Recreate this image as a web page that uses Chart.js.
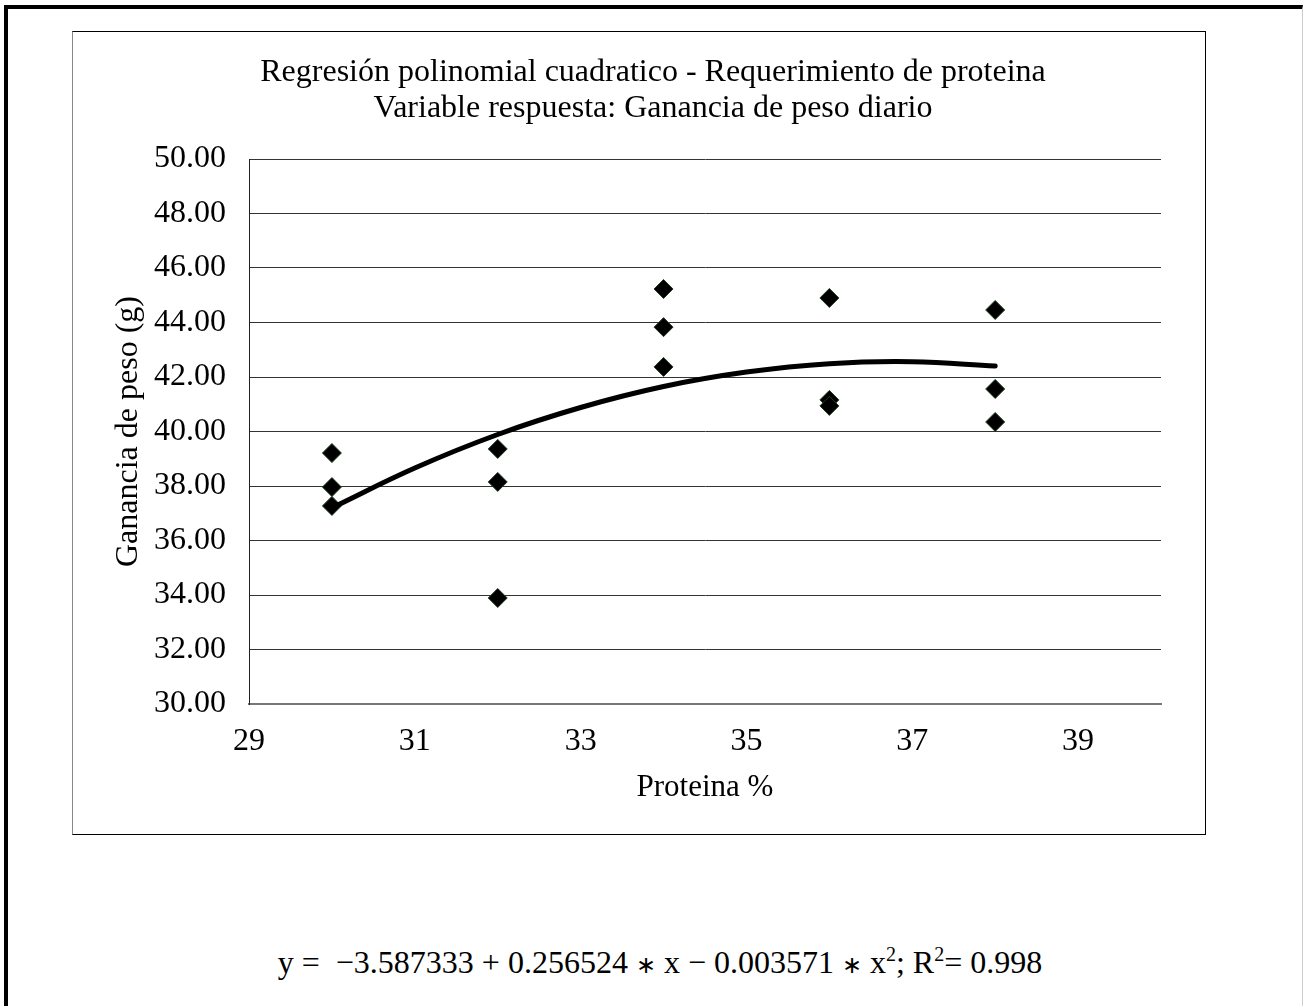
<!DOCTYPE html>
<html><head><meta charset="utf-8">
<script src="https://cdn.jsdelivr.net/npm/chart.js@4"></script>
<style>
body{margin:0;background:#fff;font-family:"Liberation Serif",serif}
#frame{position:absolute;left:4px;top:5px;width:1299px;height:1100px;box-sizing:border-box;border-top:4px solid #000;border-left:4px solid #000;border-right:1px solid #ccc}
#box{position:absolute;left:72px;top:31px;width:1134px;height:804px;box-sizing:border-box;border:1px solid #000;border-left-color:#888}
#eq{position:absolute;left:160px;width:1000px;top:947px;text-align:center;font:32px/30px "Liberation Serif",serif;color:#000}
#eq sup{font-size:20px;line-height:0}
#eq .op{font-size:24px}
</style></head>
<body>
<div id="frame"></div>
<div id="box"><canvas id="c" width="1132" height="802"></canvas></div>
<div id="eq">y =&nbsp; −3.587333 + 0.256524 <span class="op">∗</span> x − 0.003571 <span class="op">∗</span> x<sup>2</sup>; R<sup>2</sup>= 0.998</div>
<script>
// datos observados
const proteina=[30,30,30,32,32,32,34,34,34,36,36,36,38,38,38];
const ganancia=[39.21,37.96,37.27,39.36,38.15,33.89,45.23,43.83,42.37,44.90,41.16,40.94,44.46,41.56,40.35];
// curva ajustada
const curvaX=[30,31,32,33,34,35,36,37,38];
const curvaY=[37.20,38.66,39.89,40.88,41.65,42.18,42.49,42.56,42.40];
const xTicks=[29,31,33,35,37,39];
const tituloLineas=['Regresión polinomial cuadratico - Requerimiento de proteina','Variable respuesta: Ganancia de peso diario'];

const FONT='"Liberation Serif", serif';
// título dibujado a mano para centrarlo como el original
const tituloPlugin={id:'titulo',afterDraw(ch){
  const c=ch.ctx;c.save();c.font='32px '+FONT;c.fillStyle='#000';c.textAlign='center';c.textBaseline='alphabetic';
  tituloLineas.forEach((t,i)=>c.fillText(t,580,49+i*36));
  c.restore();
}};

new Chart(document.getElementById('c'),{
  type:'scatter',
  data:{datasets:[
    {label:'ajuste',data:curvaX.map((x,i)=>({x,y:curvaY[i]})),showLine:true,tension:0.4,borderColor:'#000',borderWidth:5,borderCapStyle:'round',pointRadius:0,fill:false},
    {label:'obs',data:proteina.map((x,i)=>({x,y:ganancia[i]})),pointStyle:'rectRot',pointRadius:9.5,backgroundColor:'#000',borderColor:'#1d3d1d',borderWidth:1}
  ]},
  options:{
    responsive:false,animation:false,
    layout:{padding:{left:0,right:44,top:127,bottom:0}},
    plugins:{legend:{display:false},tooltip:{enabled:false}},
    scales:{
      x:{type:'linear',min:29,max:40,
        afterBuildTicks:s=>{s.ticks=xTicks.map(v=>({value:v}));},
        afterFit:s=>{s.height=130;},
        grid:{display:false,drawTicks:false},
        border:{display:true,color:'#777',width:2},
        ticks:{font:{family:FONT,size:32},color:'#000',padding:18,maxRotation:0,autoSkip:false},
        title:{display:true,text:'Proteina %',font:{family:FONT,size:31},color:'#000',padding:{top:0,bottom:28}}},
      y:{min:30,max:50,
        afterFit:s=>{s.width=176;},
        grid:{color:'#333',lineWidth:1,drawTicks:false},
        border:{display:true,color:'#222',width:1},
        ticks:{stepSize:2,font:{family:FONT,size:32},color:'#000',padding:23,callback:v=>v.toFixed(2)},
        title:{display:true,text:'Ganancia de peso (g)',font:{family:FONT,size:32},color:'#000',padding:{top:36,bottom:0}}}
    }
  },
  plugins:[tituloPlugin]
});
</script>
</body></html>
